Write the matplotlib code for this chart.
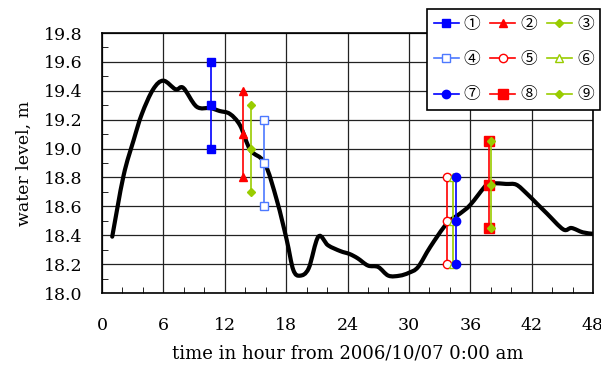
import matplotlib
matplotlib.use("Agg")
import matplotlib.pyplot as plt
from matplotlib.ticker import MultipleLocator, FormatStrFormatter
from matplotlib.path import Path
from matplotlib.patches import PathPatch
import numpy as np

plt.rcParams['font.family'] = ['DejaVu Serif', 'Noto Sans CJK JP']

# observed water level curve
t_curve = [1.0, 2.1, 3.1, 3.9, 5.0, 6.0, 7.2, 7.95, 9.25, 10.6, 11.5, 12.5, 13.5,
           14.5, 15.9, 17.1, 18.05, 18.7, 19.35, 20.2, 21.15, 22.1, 23.3, 24.2,
           25.0, 26.0, 27.0, 28.0, 29.1, 30.0, 30.9, 32.1, 33.7, 35.0, 36.0,
           37.6, 38.25, 39.5, 40.5, 41.5, 42.5, 43.5, 45.1, 45.9, 47.0, 48.0]
wl_curve = [18.39, 18.81, 19.06, 19.24, 19.41, 19.47, 19.41, 19.42, 19.29, 19.28,
            19.26, 19.24, 19.16, 18.99, 18.90, 18.64, 18.37, 18.16, 18.12, 18.17,
            18.39, 18.33, 18.29, 18.27, 18.24, 18.19, 18.18, 18.12, 18.12, 18.14,
            18.18, 18.32, 18.48, 18.55, 18.61, 18.75, 18.76, 18.755, 18.75, 18.69,
            18.62, 18.55, 18.44, 18.45, 18.42, 18.41]

labels = ['①', '②', '③', '④', '⑤', '⑥', '⑦', '⑧', '⑨']
series_x = [10.65, 13.75, 14.6, 15.85, 33.7, 34.35, 34.6, 37.85, 38.0]
series_hi = [19.6, 19.4, 19.3, 19.2, 18.8, 18.8, 18.8, 19.05, 19.05]
series_mid = [19.3, 19.1, 19.0, 18.9, 18.5, 18.5, 18.5, 18.75, 18.75]
series_lo = [19.0, 18.8, 18.7, 18.6, 18.2, 18.2, 18.2, 18.45, 18.45]

blue = '#0000ff'
red = '#ff0000'
green = '#99cc00'
lblue = '#4d79ff'
styles = [
    dict(color=blue, marker='s', mfc=blue, mec=blue, ms=6),
    dict(color=red, marker='^', mfc=red, mec=red, ms=6),
    dict(color=green, marker='D', mfc=green, mec=green, ms=4.5),
    dict(color=lblue, marker='s', mfc='white', mec=lblue, ms=6),
    dict(color=red, marker='o', mfc='white', mec=red, ms=6),
    dict(color=green, marker='^', mfc='white', mec=green, ms=6),
    dict(color=blue, marker='o', mfc=blue, mec=blue, ms=6),
    dict(color=red, marker='s', mfc=red, mec=red, ms=7),
    dict(color=green, marker='D', mfc=green, mec=green, ms=4.5),
]

fig = plt.figure(figsize=(6.01, 3.68), dpi=100)
ax = fig.add_axes([102/601, 75/368, 491/601, 260/368])

# smoothed line (Catmull-Rom rendered as cubic Bezier, like a spreadsheet smooth line)
P = np.column_stack([t_curve, wl_curve])
verts = [tuple(P[0])]
codes = [Path.MOVETO]
n = len(P)
for i in range(n - 1):
    p0 = P[i - 1] if i > 0 else P[i]
    p1 = P[i]
    p2 = P[i + 1]
    p3 = P[i + 2] if i + 2 < n else P[i + 1]
    c1 = p1 + (p2 - p0) / 6.0
    c2 = p2 - (p3 - p1) / 6.0
    verts += [tuple(c1), tuple(c2), tuple(p2)]
    codes += [Path.CURVE4] * 3
ax.add_patch(PathPatch(Path(verts, codes), facecolor='none', edgecolor='black',
                       lw=3, zorder=3, capstyle='round', joinstyle='round'))

handles = []
for i in range(len(labels)):
    h, = ax.plot([series_x[i]] * 3, [series_hi[i], series_mid[i], series_lo[i]],
                 lw=1.2, zorder=4, label=labels[i], **styles[i])
    handles.append(h)

ax.set_xlim(0, 48)
ax.set_ylim(18.0, 19.8)
ax.xaxis.set_major_locator(MultipleLocator(6))
ax.xaxis.set_minor_locator(MultipleLocator(2))
ax.yaxis.set_major_locator(MultipleLocator(0.2))
ax.yaxis.set_minor_locator(MultipleLocator(0.1))
ax.yaxis.set_major_formatter(FormatStrFormatter('%.1f'))
ax.grid(True, which='major', color='#222222', lw=0.9)
ax.tick_params(which='both', direction='in', top=False, right=False, labelsize=12.5,
               color='black')
ax.tick_params(which='major', length=0)
ax.tick_params(axis='x', which='minor', length=4)
ax.tick_params(axis='y', which='minor', length=4)
ax.tick_params(axis='x', which='major', pad=17)
ax.tick_params(axis='y', which='major', pad=14)
for s in ax.spines.values():
    s.set_color('black')
    s.set_linewidth(1.2)

ax.set_xlabel('time in hour from 2006/10/07 0:00 am', fontsize=13, labelpad=8)
ax.set_ylabel('water level, m', fontsize=12.5, labelpad=8)

# legend in row-major order (3 columns)
order = [0, 3, 6, 1, 4, 7, 2, 5, 8]
leg = fig.legend(handles=[handles[k] for k in order], labels=[labels[k] for k in order],
                 ncol=3, loc='upper left',
                 bbox_to_anchor=(427/601, 1 - 9/368), frameon=True, fancybox=False,
                 fontsize=12, handlelength=1.5, handletextpad=0.3, columnspacing=0.6,
                 labelspacing=1.1, borderpad=0.4, borderaxespad=0)
leg.get_frame().set_edgecolor('black')
leg.get_frame().set_linewidth(1.2)
leg.get_frame().set_alpha(1)
leg.set_zorder(10)

fig.savefig('out.png', dpi=100)
